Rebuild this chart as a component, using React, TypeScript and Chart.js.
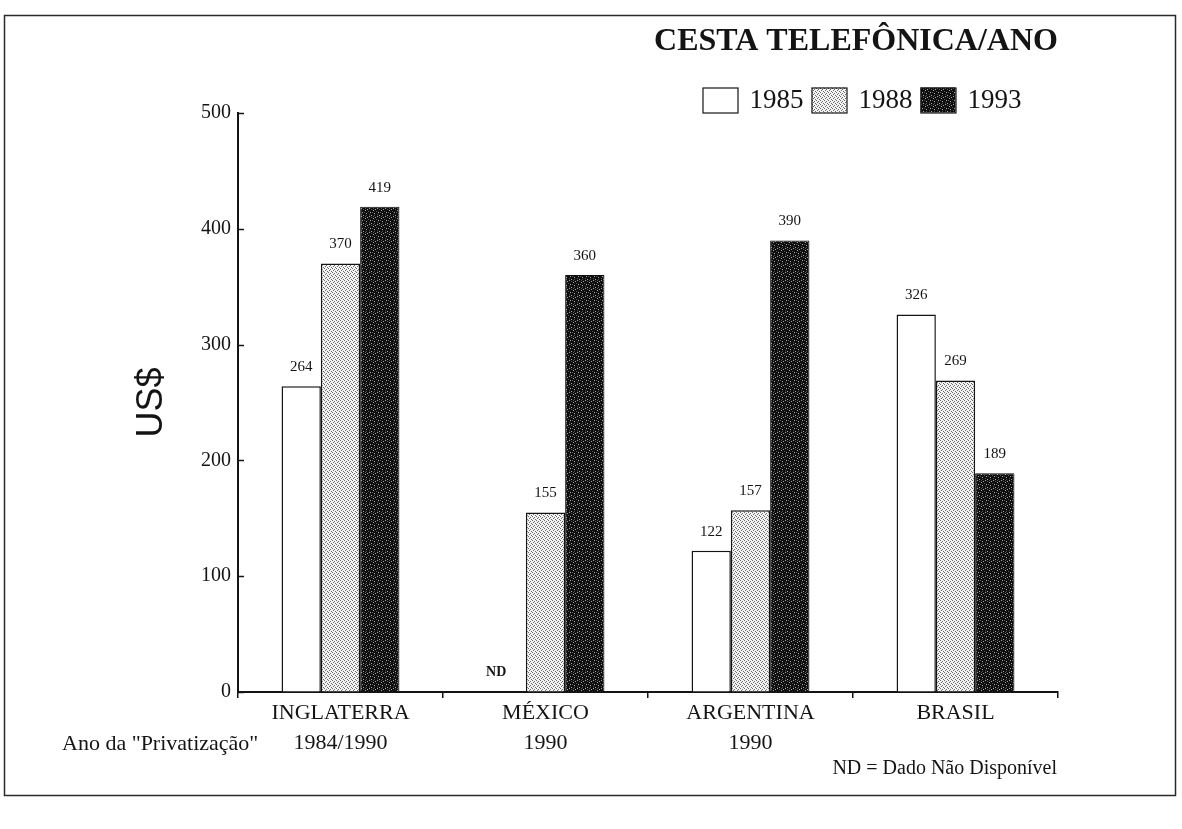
import React, { useEffect, useRef } from "react";
import { Chart, registerables } from "chart.js";

Chart.register(...registerables);

// ---- data ----
const categories = ["INGLATERRA", "MÉXICO", "ARGENTINA", "BRASIL"];
const privatizationYears = ["1984/1990", "1990", "1990", ""];
const seriesLabels = ["1985", "1988", "1993"];
const values1985: (number | null)[] = [264, null, 122, 326];
const values1988: (number | null)[] = [370, 155, 157, 269];
const values1993: (number | null)[] = [419, 360, 390, 189];
const yMin = 0;
const yMax = 500;
const yStep = 100;
const missingLabel = "ND";
const titleText = "CESTA TELEFÔNICA/ANO";
const yAxisTitle = "US$";
const privatizationCaption = 'Ano da "Privatização"';
const footNote = "ND = Dado Não Disponível";

const SERIF = '"Liberation Serif", "Times New Roman", serif';
const SANS = '"Liberation Sans", Arial, sans-serif';
const INK = "#141414";

function lightPattern(ctx: CanvasRenderingContext2D) {
  const c = document.createElement("canvas");
  c.width = 4;
  c.height = 4;
  const g = c.getContext("2d")!;
  g.fillStyle = "#f4f4f4";
  g.fillRect(0, 0, 4, 4);
  g.fillStyle = "#6a6a6a";
  [[0, 0], [2, 1], [1, 2], [3, 3]].forEach(([x, y]) => g.fillRect(x, y, 1, 1));
  return ctx.createPattern(c, "repeat")!;
}

function darkPattern(ctx: CanvasRenderingContext2D) {
  const c = document.createElement("canvas");
  c.width = 8;
  c.height = 8;
  const g = c.getContext("2d")!;
  g.fillStyle = "#0e0e0e";
  g.fillRect(0, 0, 8, 8);
  g.fillStyle = "#a8a8a8";
  [[1, 0], [5, 2], [2, 4], [6, 5], [3, 7], [7, 1]].forEach(([x, y]) => g.fillRect(x, y, 1, 1));
  g.fillStyle = "#555555";
  [[3, 1], [0, 3], [4, 4], [1, 6], [6, 7], [5, 0]].forEach(([x, y]) => g.fillRect(x, y, 1, 1));
  return ctx.createPattern(c, "repeat")!;
}

const overlayPlugin = {
  id: "overlay",
  beforeDraw(chart: any) {
    const ctx = chart.ctx as CanvasRenderingContext2D;
    ctx.save();
    ctx.fillStyle = "#ffffff";
    ctx.fillRect(0, 0, chart.width, chart.height);
    ctx.strokeStyle = "#2a2a2a";
    ctx.lineWidth = 1.5;
    ctx.strokeRect(4.5, 15.5, 1171, 780);
    ctx.restore();
  },
  afterDraw(chart: any) {
    const ctx = chart.ctx as CanvasRenderingContext2D;
    const area = chart.chartArea;
    const yScale = chart.scales.y;
    ctx.save();

    // inward y ticks
    ctx.strokeStyle = INK;
    ctx.lineWidth = 1.5;
    yScale.ticks.forEach((t: any) => {
      const py = Math.round(yScale.getPixelForValue(t.value)) + 0.5;
      ctx.beginPath();
      ctx.moveTo(area.left, py);
      ctx.lineTo(area.left + 6, py);
      ctx.stroke();
    });

    // value labels
    ctx.fillStyle = INK;
    ctx.textAlign = "center";
    ctx.textBaseline = "middle";
    chart.data.datasets.forEach((ds: any, di: number) => {
      const meta = chart.getDatasetMeta(di);
      meta.data.forEach((el: any, i: number) => {
        const v = ds.data[i];
        if (v === null || v === undefined) {
          ctx.font = `bold 14px ${SERIF}`;
          ctx.fillText(missingLabel, el.x - 10, yScale.getPixelForValue(0) - 20);
        } else {
          ctx.font = `15px ${SERIF}`;
          ctx.fillText(String(v), el.x, el.y - 19);
        }
      });
    });

    // title
    ctx.font = `bold 32px ${SERIF}`;
    ctx.textAlign = "center";
    ctx.textBaseline = "middle";
    ctx.fillText(titleText, 856, 42);

    // legend
    ctx.font = `27px ${SERIF}`;
    const boxW = 35;
    const boxH = 25;
    const gapBoxText = 12;
    const gapItems = 8;
    const widths = chart.data.datasets.map((ds: any) => ctx.measureText(ds.label).width);
    const total =
      widths.reduce((a: number, b: number) => a + b, 0) +
      chart.data.datasets.length * (boxW + gapBoxText) +
      (chart.data.datasets.length - 1) * gapItems;
    let cx = 862 - total / 2;
    const ly = 100;
    chart.data.datasets.forEach((ds: any, i: number) => {
      ctx.fillStyle = ds.backgroundColor;
      ctx.fillRect(cx, ly - boxH / 2, boxW, boxH);
      ctx.strokeStyle = INK;
      ctx.lineWidth = 1.2;
      ctx.strokeRect(cx + 0.5, ly - boxH / 2 + 0.5, boxW, boxH);
      cx += boxW + gapBoxText;
      ctx.fillStyle = INK;
      ctx.textAlign = "left";
      ctx.fillText(ds.label, cx, ly + 1);
      cx += widths[i] + gapItems;
    });

    // privatization caption and footnote
    ctx.font = `22px ${SERIF}`;
    ctx.textAlign = "left";
    ctx.fillStyle = INK;
    ctx.fillText(privatizationCaption, 62, 744);
    ctx.font = `20px ${SERIF}`;
    ctx.textAlign = "right";
    ctx.fillText(footNote, 1057, 769);

    ctx.restore();
  },
};

export default function App() {
  const ref = useRef<HTMLCanvasElement>(null);

  useEffect(() => {
    const canvas = ref.current!;
    const ctx = canvas.getContext("2d")!;
    const light = lightPattern(ctx);
    const dark = darkPattern(ctx);

    const labels = categories.map((c, i) => (privatizationYears[i] ? [c, privatizationYears[i]] : c));

    const chart = new Chart(ctx, {
      type: "bar",
      data: {
        labels,
        datasets: [
          { label: seriesLabels[0], data: values1985, backgroundColor: "#ffffff", borderColor: INK, borderWidth: 1.5 },
          { label: seriesLabels[1], data: values1988, backgroundColor: light as any, borderColor: INK, borderWidth: 1.5 },
          { label: seriesLabels[2], data: values1993, backgroundColor: dark as any, borderColor: "#0e0e0e", borderWidth: 1 },
        ],
      },
      options: {
        responsive: false,
        animation: false,
        events: [],
        layout: { padding: { left: 118, right: 124, top: 113, bottom: 57 } },
        datasets: { bar: { barPercentage: 1, categoryPercentage: 0.575 } },
        plugins: { legend: { display: false }, title: { display: false }, tooltip: { enabled: false } },
        scales: {
          x: {
            grid: { offset: true, drawOnChartArea: false, drawTicks: true, tickLength: 6, color: INK, lineWidth: 1.5 },
            border: { display: true, color: INK, width: 2 },
            ticks: {
              color: INK,
              font: { family: SERIF, size: 22, lineHeight: 30 / 22 },
              padding: 0,
              maxRotation: 0,
              autoSkip: false,
            },
            afterFit(s: any) {
              s.height = 80;
            },
          },
          y: {
            min: yMin,
            max: yMax,
            grid: { display: true, drawOnChartArea: false, drawTicks: false },
            border: { display: true, color: INK, width: 2 },
            ticks: { stepSize: yStep, padding: 7, color: INK, font: { family: SERIF, size: 20 } },
            title: {
              display: true,
              text: yAxisTitle,
              color: INK,
              font: { family: SANS, size: 36, lineHeight: 1.2 },
              padding: { top: 12, bottom: 0 },
            },
            afterFit(s: any) {
              s.width = 120;
            },
          },
        },
      },
      plugins: [overlayPlugin],
    });

    return () => chart.destroy();
  }, []);

  return (
    <div style={{ position: "absolute", left: 0, top: 0, width: 1182, height: 829, background: "#fff" }}>
      <canvas ref={ref} width={1182} height={829} style={{ display: "block", width: 1182, height: 829 }} />
    </div>
  );
}
